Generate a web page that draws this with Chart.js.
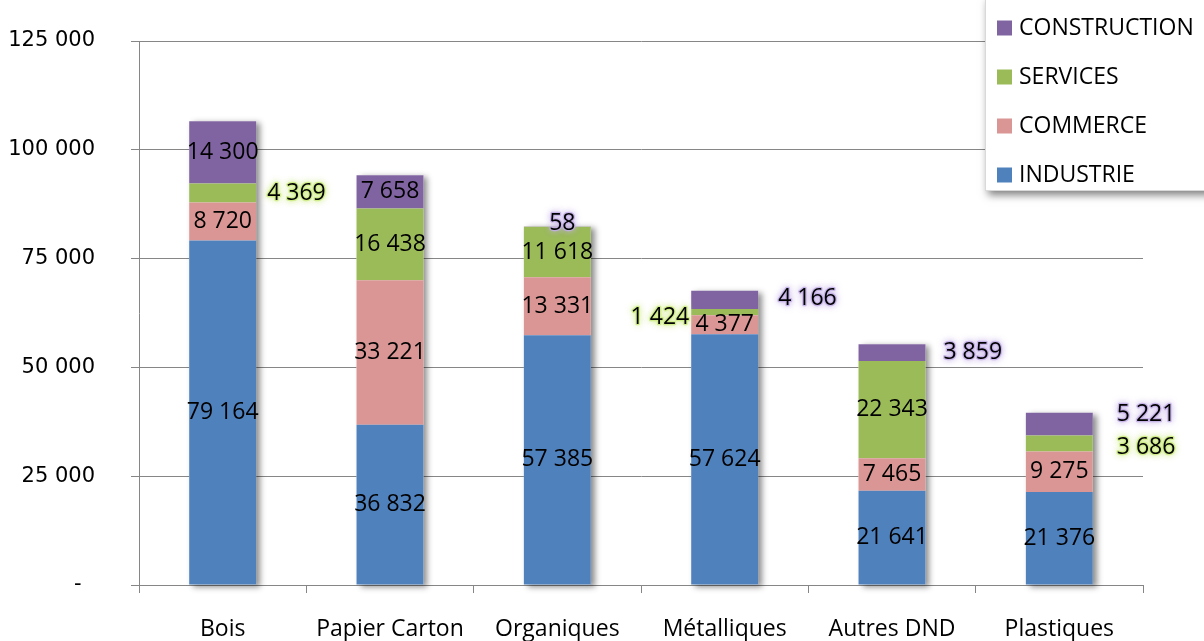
<!DOCTYPE html>
<html>
<head>
<meta charset="utf-8">
<script src="https://cdn.jsdelivr.net/npm/chart.js@4.4.0/dist/chart.umd.min.js"></script>
<style>
html,body{margin:0;padding:0;background:#fff;}
#wrap{width:1204px;height:641px;position:relative;overflow:hidden;}
</style>
</head>
<body>
<div id="wrap"><canvas id="c" width="1204" height="641"></canvas></div>
<script>
// ---- Data ----
const categories = ['Bois', 'Papier Carton', 'Organiques', 'Métalliques', 'Autres DND', 'Plastiques'];
const industrie    = [79164, 36832, 57385, 57624, 21641, 21376];
const commerce     = [8720, 33221, 13331, 4377, 7465, 9275];
const services     = [4369, 16438, 11618, 1424, 22343, 3686];
const construction = [14300, 7658, 58, 4166, 3859, 5221];
const seriesNames  = ['INDUSTRIE', 'COMMERCE', 'SERVICES', 'CONSTRUCTION'];
const yTickValues  = [0, 25000, 50000, 75000, 100000, 125000];

// ---- Styles / placement (kept apart from the data) ----
const seriesColors = ['#4F81BD', '#D99694', '#9BBB59', '#8064A2'];
const glowColors   = [null, null, 'rgba(205,235,130,0.85)', 'rgba(195,175,230,0.85)'];
const outsideLabels = {
  'SERVICES|Bois':            { side: 'right', dx: 11, dy: 0 },
  'SERVICES|Métalliques':     { side: 'left',  dx: 2,  dy: 5 },
  'CONSTRUCTION|Métalliques': { side: 'right', dx: 20, dy: -1 },
  'CONSTRUCTION|Autres DND':  { side: 'right', dx: 18, dy: 0 },
  'CONSTRUCTION|Plastiques':  { side: 'right', dx: 24, dy: -10 },
  'SERVICES|Plastiques':      { side: 'right', dx: 24, dy: 4 },
  'CONSTRUCTION|Organiques':  { side: 'center', dx: 5, dy: -3 }
};
const LABEL_FONT = '23px "Open Sans"';

function fmt(v) {
  return String(v).replace(/\B(?=(\d{3})+(?!\d))/g, ' ');
}

const seriesData = [industrie, commerce, services, construction];

// Shadow behind each stacked column
const barShadow = {
  id: 'barShadow',
  beforeDatasetsDraw(chart) {
    const ctx = chart.ctx;
    const first = chart.getDatasetMeta(0).data;
    const last = chart.getDatasetMeta(seriesData.length - 1).data;
    ctx.save();
    ctx.shadowColor = 'rgba(0,0,0,0.45)';
    ctx.shadowBlur = 6;
    ctx.shadowOffsetX = 4;
    ctx.shadowOffsetY = 2;
    ctx.fillStyle = '#ffffff';
    first.forEach((el, i) => {
      const top = last[i].y;
      const base = el.base;
      const w = el.width;
      ctx.fillRect(el.x - w / 2, top, w, base - top);
    });
    ctx.restore();
  }
};

// Data labels
const dataLabels = {
  id: 'dataLabels',
  afterDatasetsDraw(chart) {
    const ctx = chart.ctx;
    ctx.save();
    ctx.font = LABEL_FONT;
    ctx.textBaseline = 'middle';
    chart.data.datasets.forEach((ds, d) => {
      const meta = chart.getDatasetMeta(d);
      meta.data.forEach((el, i) => {
        const text = fmt(ds.data[i]);
        const key = ds.label + '|' + chart.data.labels[i];
        const place = outsideLabels[key];
        let x = el.x, y = (el.y + el.base) / 2, align = 'center';
        let glow = null;
        if (place) {
          glow = glowColors[d];
          if (place.side === 'right') { x = el.x + el.width / 2 + place.dx; align = 'left'; }
          else if (place.side === 'left') { x = el.x - el.width / 2 - place.dx; align = 'right'; }
          else { x = el.x + (place.dx || 0); }
          y += place.dy || 0;
        }
        ctx.textAlign = align;
        if (glow) {
          ctx.save();
          ctx.shadowColor = glow;
          ctx.shadowBlur = 6;
          ctx.fillStyle = glow;
          ctx.lineWidth = 2.5;
          ctx.lineJoin = 'round';
          ctx.strokeStyle = glow;
          ctx.strokeText(text, x, y);
          ctx.fillText(text, x, y);
          ctx.restore();
        }
        ctx.fillStyle = '#000';
        ctx.fillText(text, x, y);
      });
    });
    ctx.restore();
  }
};

// Legend box (top right, with drop shadow), reversed order
const boxLegend = {
  id: 'boxLegend',
  afterDraw(chart) {
    const ctx = chart.ctx;
    const bx = 985, by = -4, bw = 240, bh = 194;
    ctx.save();
    ctx.shadowColor = 'rgba(0,0,0,0.5)';
    ctx.shadowBlur = 8;
    ctx.shadowOffsetX = 3;
    ctx.shadowOffsetY = 5;
    ctx.fillStyle = '#ffffff';
    ctx.fillRect(bx, by, bw, bh);
    ctx.restore();
    ctx.save();
    ctx.strokeStyle = '#d9d9d9';
    ctx.lineWidth = 1;
    ctx.strokeRect(bx + 0.5, by + 0.5, bw, bh);
    ctx.font = '23px "Open Sans"';
    ctx.textBaseline = 'middle';
    ctx.textAlign = 'left';
    const n = chart.data.datasets.length;
    for (let k = 0; k < n; k++) {
      const d = n - 1 - k;
      const ds = chart.data.datasets[d];
      const cy = 28 + k * 49;
      ctx.fillStyle = ds.backgroundColor;
      ctx.fillRect(997, cy - 7.5, 15, 15);
      ctx.fillStyle = '#000';
      ctx.fillText(ds.label, 1019, cy);
    }
    ctx.restore();
  }
};

const chart = new Chart(document.getElementById('c'), {
  type: 'bar',
  data: {
    labels: categories,
    datasets: seriesNames.map((name, s) => ({
      label: name,
      data: seriesData[s],
      backgroundColor: seriesColors[s],
      borderWidth: 0,
      categoryPercentage: 1.0,
      barPercentage: 0.4
    }))
  },
  options: {
    responsive: false,
    animation: false,
    devicePixelRatio: 1,
    layout: { padding: { top: 41, right: 61, left: 0, bottom: 0 } },
    plugins: { legend: { display: false }, tooltip: { enabled: false } },
    scales: {
      x: {
        stacked: true,
        grid: { offset: true, drawOnChartArea: false, tickLength: 8, color: '#868686' },
        border: { color: '#868686' },
        ticks: { color: '#000', font: { family: 'Open Sans', size: 23 }, padding: 23, maxRotation: 0 },
        afterFit(scale) { scale.height = 56; scale.paddingTop = 0; scale.paddingBottom = 0; }
      },
      y: {
        stacked: true,
        min: 0,
        max: 125000,
        afterBuildTicks(scale) { scale.ticks = yTickValues.map(v => ({ value: v })); },
        grid: { color: '#868686', tickLength: 8 },
        border: { color: '#868686' },
        ticks: {
          color: '#000',
          font: { family: 'DejaVu Sans', size: 21 },
          padding: 36,
          callback: v => v === 0 ? '-  ' : fmt(v)
        },
        afterFit(scale) { scale.width = 139; scale.paddingTop = 0; scale.paddingBottom = 0; }
      }
    }
  },
  plugins: [barShadow, dataLabels, boxLegend]
});
</script>
</body>
</html>
